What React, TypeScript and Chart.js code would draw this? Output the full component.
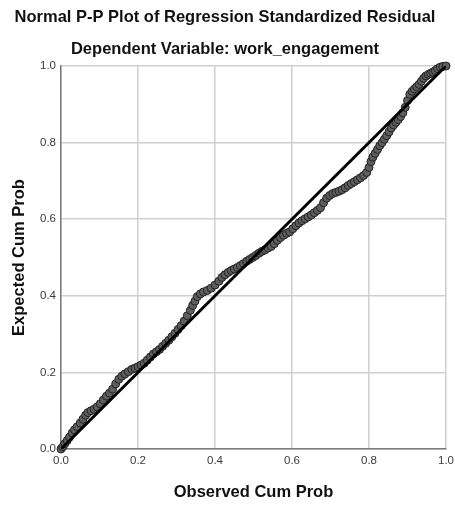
import React, { useEffect, useRef } from "react";
import { Chart, registerables } from "chart.js";

Chart.register(...registerables);

const observedCumProb = [
  0.0, 0.005, 0.01, 0.016, 0.022, 0.029, 0.035, 0.042, 0.05, 0.057,
  0.064, 0.07, 0.078, 0.086, 0.094, 0.102, 0.11, 0.118, 0.126, 0.134,
  0.142, 0.15, 0.158, 0.166, 0.175, 0.184, 0.192, 0.2, 0.208, 0.216,
  0.224, 0.232, 0.24, 0.248, 0.256, 0.264, 0.272, 0.28, 0.288, 0.296,
  0.304, 0.312, 0.32, 0.328, 0.336, 0.342, 0.348, 0.354, 0.362, 0.37,
  0.38, 0.39, 0.4, 0.41, 0.418, 0.426, 0.434, 0.442, 0.45, 0.458,
  0.466, 0.474, 0.482, 0.49, 0.498, 0.506, 0.514, 0.522, 0.53, 0.538,
  0.546, 0.554, 0.562, 0.57, 0.578, 0.586, 0.594, 0.602, 0.61, 0.618,
  0.626, 0.634, 0.642, 0.65, 0.658, 0.666, 0.674, 0.682, 0.69, 0.698,
  0.706, 0.714, 0.722, 0.73, 0.738, 0.746, 0.754, 0.762, 0.77, 0.778,
  0.786, 0.794, 0.8, 0.805, 0.81, 0.816, 0.822, 0.828, 0.834, 0.84,
  0.846, 0.852, 0.858, 0.864, 0.87, 0.876, 0.882, 0.888, 0.894, 0.9,
  0.906, 0.912, 0.918, 0.924, 0.93, 0.936, 0.942, 0.948, 0.954, 0.96,
  0.966, 0.972, 0.978, 0.985, 0.992, 1.0,
];

const expectedCumProb = [
  0.0, 0.006, 0.014, 0.022, 0.031, 0.042, 0.05, 0.058, 0.068, 0.078,
  0.088, 0.095, 0.1, 0.104, 0.11, 0.118, 0.128, 0.138, 0.146, 0.156,
  0.17, 0.182, 0.19, 0.196, 0.202, 0.208, 0.211, 0.215, 0.219, 0.224,
  0.232, 0.24, 0.248, 0.254, 0.26, 0.268, 0.276, 0.284, 0.293, 0.302,
  0.312, 0.322, 0.334, 0.348, 0.362, 0.375, 0.386, 0.398, 0.405, 0.41,
  0.414, 0.42, 0.428, 0.438, 0.448, 0.455, 0.461, 0.466, 0.47, 0.474,
  0.479, 0.484, 0.49, 0.495, 0.5, 0.505, 0.511, 0.516, 0.52, 0.525,
  0.529, 0.536, 0.545, 0.552, 0.558, 0.563, 0.567, 0.575, 0.583, 0.59,
  0.596, 0.601, 0.606, 0.611, 0.617, 0.623, 0.63, 0.643, 0.655, 0.662,
  0.667, 0.67, 0.673, 0.677, 0.682, 0.688, 0.693, 0.698, 0.703, 0.708,
  0.714, 0.722, 0.735, 0.75, 0.762, 0.772, 0.782, 0.792, 0.8, 0.809,
  0.818, 0.828, 0.838, 0.846, 0.853, 0.86, 0.868, 0.878, 0.892, 0.91,
  0.926, 0.934, 0.94, 0.946, 0.952, 0.96, 0.968, 0.974, 0.978, 0.981,
  0.984, 0.988, 0.993, 0.997, 0.999, 1.0,
];

const diagonalX = [0, 1];
const diagonalY = [0, 1];

const tickValues = [0, 0.2, 0.4, 0.6, 0.8, 1.0];

const FONT = "'Liberation Sans', Arial, sans-serif";
const TITLE_FONT = { family: FONT, size: 16.5, weight: "bold" };

export default function App() {
  const ref = useRef<HTMLCanvasElement>(null);

  useEffect(() => {
    if (!ref.current) return;
    const points = observedCumProb.map((x, i) => ({ x, y: expectedCumProb[i] }));
    const diagonal = diagonalX.map((x, i) => ({ x, y: diagonalY[i] }));

    const tickOpts = {
      font: { family: FONT, size: 11.5 },
      color: "#3a3a3a",
      callback: (v: any) => Number(v).toFixed(1),
    };
    const gridOpts = { color: "#cfcfcf", lineWidth: 1.5, drawTicks: false };
    const borderOpts = { color: "#7a7a7a", width: 1.5 };

    const chart = new Chart(ref.current, {
      type: "scatter",
      data: {
        datasets: [
          {
            type: "line",
            data: diagonal,
            borderColor: "#000000",
            borderWidth: 3,
            pointRadius: 0,
            showLine: true,
            fill: false,
            order: 0,
          } as any,
          {
            data: points,
            backgroundColor: "#5e5e5e",
            borderColor: "#222222",
            borderWidth: 1,
            pointRadius: 4,
            order: 1,
            clip: false,
          } as any,
        ],
      },
      options: {
        animation: false,
        responsive: false,
        devicePixelRatio: 1,
        layout: { padding: { left: 4, right: 9, top: 0, bottom: 4 } },
        plugins: {
          legend: { display: false },
          tooltip: { enabled: false },
          title: {
            display: true,
            text: "Normal P-P Plot of Regression Standardized Residual",
            font: TITLE_FONT,
            color: "#111111",
            padding: { top: 7.6, bottom: 4 },
          },
          subtitle: {
            display: true,
            text: "Dependent Variable: work_engagement",
            font: TITLE_FONT,
            color: "#111111",
            padding: { top: 7.7, bottom: 7.1 },
          },
        },
        scales: {
          x: {
            type: "linear",
            min: 0,
            max: 1,
            afterBuildTicks: (s: any) => {
              s.ticks = tickValues.map((v) => ({ value: v }));
            },
            ticks: { ...tickOpts, padding: 5, maxRotation: 0 },
            grid: gridOpts,
            border: borderOpts,
            title: {
              display: true,
              text: "Observed Cum Prob",
              font: TITLE_FONT,
              color: "#111111",
              padding: { top: 0, bottom: 2.1 },
            },
            afterFit: (s: any) => {
              s.height = 55;
              s.paddingLeft = 0;
              s.paddingRight = 0;
            },
          },
          y: {
            type: "linear",
            min: 0,
            max: 1,
            afterBuildTicks: (s: any) => {
              s.ticks = tickValues.map((v) => ({ value: v }));
            },
            ticks: { ...tickOpts, padding: 5 },
            grid: gridOpts,
            border: borderOpts,
            title: {
              display: true,
              text: "Expected Cum Prob",
              font: TITLE_FONT,
              color: "#111111",
              padding: { top: 6, bottom: 0 },
            },
            afterFit: (s: any) => {
              s.width = 57;
              s.paddingTop = 0;
              s.paddingBottom = 0;
            },
          },
        },
      } as any,
    });
    return () => chart.destroy();
  }, []);

  return (
    <div style={{ position: "absolute", left: 0, top: 0, width: 455, height: 508 }}>
      <canvas ref={ref} width={455} height={508} />
    </div>
  );
}
